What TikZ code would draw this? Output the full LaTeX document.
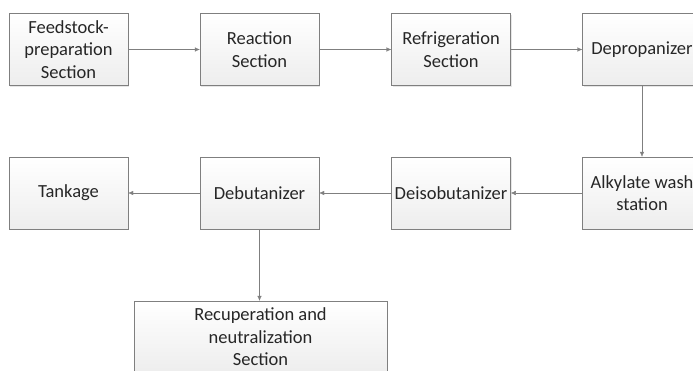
\documentclass[tikz,border=0pt]{standalone}
\usepackage{fontspec}
\setmainfont{Carlito}
\usepackage{xcolor}
\usepackage{tikz}
\usetikzlibrary{shapes,arrows.meta,positioning,calc,shadows}
\definecolor{linegray}{HTML}{7F7F7F}
\definecolor{textgray}{HTML}{262626}
\tikzstyle{unit} = [rectangle, minimum width=119pt, minimum height=72pt, text centered, align=center, draw=linegray, top color=white, bottom color=black!7, text=textgray, font=\fontsize{18.5}{22.5}\selectfont, drop shadow={shadow xshift=1pt, shadow yshift=-1pt, opacity=0.2}]
\tikzstyle{arrow} = [draw=linegray, -{Latex[length=5pt,width=4.5pt]}]

\begin{document}
\begin{tikzpicture}[x=1pt, y=-1pt]
\useasboundingbox (0,0) rectangle (693,370);
\clip (0,0) rectangle (693,370);

% Row 1
\node (feed) [unit] at (68.5,49.5) {Feedstock-\\preparation\\Section};
\node (reac) [unit] at (259.5,49.5) {Reaction\\Section};
\node (refr) [unit] at (451,49.5) {Refrigeration\\Section};
\node (deprop) [unit] at (642,49.5) {Depropanizer};

% Row 2
\node (tank) [unit] at (68.5,193) {Tankage};
\node (debut) [unit] at (259.5,193) {Debutanizer};
\node (deiso) [unit] at (451,193) {Deisobutanizer};
\node (wash) [unit] at (642,193) {Alkylate wash\\station};

% Row 3
\node (recup) [unit, minimum width=253pt] at (260.5,337) {Recuperation and\\neutralization\\Section};

% Arrows
\draw [arrow] (feed) -- (reac);
\draw [arrow] (reac) -- (refr);
\draw [arrow] (refr) -- (deprop);
\draw [arrow] (deprop) -- (wash);
\draw [arrow] (wash) -- (deiso);
\draw [arrow] (deiso) -- (debut);
\draw [arrow] (debut) -- (tank);
\draw [arrow] (debut) -- (debut |- recup.north);

\end{tikzpicture}
\end{document}
